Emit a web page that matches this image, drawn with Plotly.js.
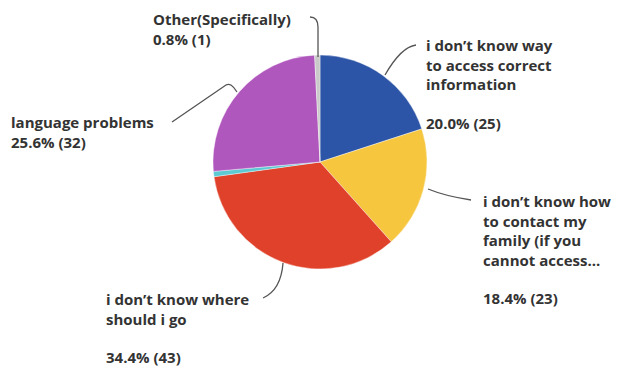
<!DOCTYPE html>
<html>
<head>
<meta charset="utf-8">
<script src="https://cdn.plot.ly/plotly-3.0.1.min.js"></script>
<style>html,body{margin:0;padding:0;background:#fff;}#chart{width:617px;height:368px;}</style>
</head>
<body>
<div id="chart"></div>
<script>
const categories = [
  "i don't know way to access correct information",
  "i don't know how to contact my family (if you cannot access...",
  "i don't know where should i go",
  "(unlabelled)",
  "language problems",
  "Other(Specifically)"
];
const counts = [25, 23, 43, 1, 32, 1];
const percentLabels = ["20.0% (25)", "18.4% (23)", "34.4% (43)", "0.8% (1)", "25.6% (32)", "0.8% (1)"];
const labelLines = [
  ["i don’t know way", "to access correct", "information"],
  ["i don’t know how", "to contact my", "family (if you", "cannot access..."],
  ["i don’t know where", "should i go"],
  [],
  ["language problems"],
  ["Other(Specifically)"]
];
const sliceColors = ["#2c55a7", "#f5c63e", "#e0412a", "#5cc9d3", "#b057bd", "#c9c9c9"];

const W = 617, H = 368;
const px = x => x / W;
const py = y => 1 - y / H;
const font = {family: "'Open Sans', sans-serif", size: 15, color: "#333333", weight: 700};

function block(text, x, y) {
  return {text: text, x: px(x), y: py(y), xref: "paper", yref: "paper",
          xanchor: "left", yanchor: "middle", align: "left", showarrow: false,
          borderpad: 0, font: font};
}

// [slice index, left x, label block centre y, value y, value on its own line?]
const placements = [
  [5, 152, 29, null],
  [4, 10, 132, null],
  [0, 425, 65, 123],
  [1, 482, 230, 298],
  [2, 105, 309, 357]
];
const annotations = [];
placements.forEach(([i, x, cy, vy]) => {
  if (vy === null) {
    annotations.push(block(labelLines[i].concat([percentLabels[i]]).join("<br>"), x, cy));
  } else {
    annotations.push(block(labelLines[i].join("<br>"), x, cy));
    annotations.push(block(percentLabels[i], x, vy));
  }
});

function pathShape(d) {
  return {type: "path", xref: "paper", yref: "paper", path: d,
          line: {color: "#555555", width: 1.3}};
}
function P(x, y) { return px(x).toFixed(4) + "," + py(y).toFixed(4); }

const shapes = [
  pathShape("M" + P(310, 17) + " Q" + P(318, 17) + " " + P(318, 27) + " L" + P(318, 57)),
  pathShape("M" + P(416, 45) + " Q" + P(401, 47) + " " + P(385, 75)),
  pathShape("M" + P(428, 189) + " Q" + P(445, 196) + " " + P(471, 200)),
  pathShape("M" + P(283, 263) + " Q" + P(281, 290) + " " + P(263, 298)),
  pathShape("M" + P(172, 122) + " L" + P(226, 85) + " Q" + P(231, 82) + " " + P(237, 92))
];

const trace = {
  type: "pie",
  labels: categories,
  values: counts,
  sort: false,
  direction: "clockwise",
  rotation: 0,
  textinfo: "none",
  hoverinfo: "label+value+percent",
  marker: {colors: sliceColors, line: {color: "#ffffff", width: 0.4}},
  domain: {x: [px(213), px(427)], y: [py(269), py(55)]},
  showlegend: false
};

Plotly.newPlot("chart", [trace], {
  width: W, height: H,
  margin: {l: 0, r: 0, t: 0, b: 0},
  paper_bgcolor: "#ffffff",
  showlegend: false,
  annotations: annotations,
  shapes: shapes
}, {staticPlot: true});
</script>
</body>
</html>
